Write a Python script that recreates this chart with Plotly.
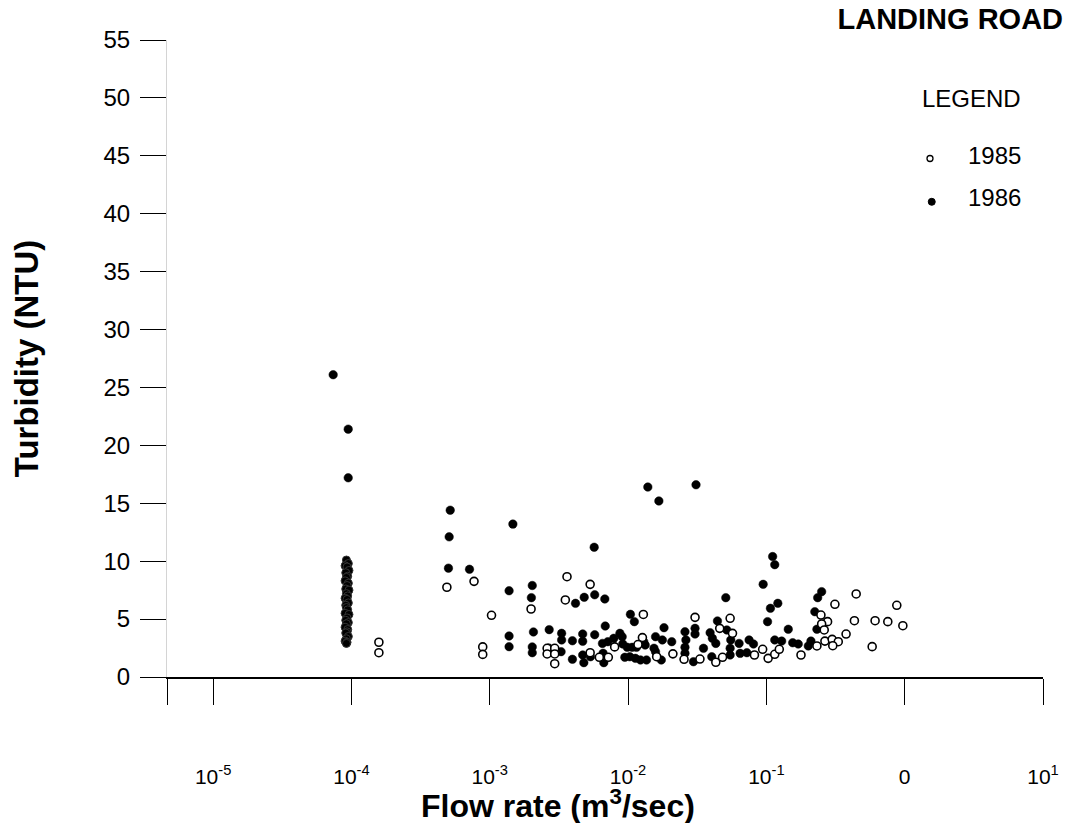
import plotly.graph_objects as go

# turbidity vs flow rate, Landing Road
# 1985 (open circles)
flow_1985 = [1.58e-4, 1.58e-4, 4.9e-4, 7.7e-4, 1.03e-3, 8.9e-4, 8.9e-4, 1.99e-3,
             2.6e-3, 2.6e-3, 2.95e-3, 2.95e-3, 2.95e-3, 3.62e-3, 3.52e-3, 5.32e-3,
             5.32e-3, 6.2e-3, 7.2e-3, 8.0e-3, 1.29e-2, 1.27e-2, 1.18e-2, 1.61e-2,
             2.11e-2, 3.05e-2, 2.54e-2, 3.31e-2, 5.47e-2, 5.69e-2, 4.31e-2, 4.82e-2,
             4.6e-2, 8.2e-2, 9.4e-2, 1.03e-1, 1.15e-1, 1.24e-1, 1.78e-1, 2.32e-1,
             2.48e-1, 2.77e-1, 2.51e-1, 2.62e-1, 3.13e-1, 4.46e-1, 4.33e-1, 3.77e-1,
             2.65e-1, 2.99e-1, 3.31e-1, 3.02e-1, 8.77e-1, 6.11e-1, 7.55e-1, 9.7e-1,
             5.82e-1]
turb_1985 = [3.0, 2.1, 7.75, 8.26, 5.33, 2.6, 1.95, 5.87,
             2.48, 1.99, 2.48, 1.99, 1.15, 8.66, 6.65, 8.0,
             2.1, 1.7, 1.7, 2.6, 5.4, 3.4, 2.8, 1.75,
             2.0, 5.15, 1.53, 1.55, 5.07, 3.77, 1.27, 1.7,
             4.2, 1.9, 2.39, 1.61, 1.96, 2.39, 1.9, 2.68,
             5.35, 4.78, 4.58, 4.06, 6.28, 7.17, 4.86, 3.71,
             3.1, 3.25, 3.05, 2.7, 6.19, 4.86, 4.78, 4.43,
             2.62]

# 1986 (filled circles)
flow_1986 = [7.38e-5, 9.48e-5, 9.48e-5,
             5.18e-4, 5.09e-4, 5.03e-4, 7.14e-4,
             1.47e-3, 1.38e-3, 1.38e-3, 1.38e-3,
             2.03e-3, 2.0e-3, 2.07e-3, 2.03e-3, 2.03e-3,
             2.69e-3, 2.67e-3, 3.31e-3, 3.31e-3, 3.28e-3, 3.96e-3, 3.96e-3,
             4.17e-3, 4.82e-3, 5.74e-3, 6.79e-3, 5.69e-3,
             4.7e-3, 4.7e-3, 5.74e-3, 6.84e-3,
             4.7e-3, 4.79e-3, 5.35e-3, 6.6e-3, 6.68e-3,
             6.53e-3, 7.14e-3, 7.89e-3, 8.73e-3, 9.07e-3,
             9.16e-3, 9.87e-3, 1.07e-2, 1.15e-2,
             1.04e-2, 1.11e-2, 1.30e-2, 1.33e-2,
             9.48e-3, 1.03e-2, 1.13e-2, 1.23e-2, 1.36e-2,
             1.39e-2, 1.67e-2, 3.1e-2,
             1.82e-2, 1.58e-2, 1.77e-2, 2.07e-2, 1.54e-2, 1.58e-2, 1.74e-2,
             2.58e-2, 2.62e-2, 2.58e-2, 2.58e-2,
             3.05e-2, 3.05e-2, 2.97e-2,
             3.51e-2, 3.92e-2, 4.07e-2, 4.31e-2, 4.43e-2, 4.03e-2,
             5.09e-2, 5.18e-2, 5.53e-2, 5.47e-2, 5.47e-2,
             6.35e-2, 6.46e-2, 7.23e-2, 7.5e-2, 8.07e-2,
             9.48e-2, 1.11e-1, 1.15e-1, 1.21e-1, 1.07e-1, 1.02e-1, 1.44e-1,
             1.15e-1, 1.29e-1, 1.55e-1, 1.70e-1, 2.01e-1, 2.1e-1,
             2.35e-1, 2.51e-1, 2.24e-1, 2.32e-1]
turb_1986 = [26.1, 21.4, 17.2,
             14.4, 12.1, 9.4, 9.3,
             13.2, 7.45, 3.54, 2.62,
             7.9, 6.85, 3.89, 2.6, 2.1,
             4.09, 2.5, 3.77, 3.2, 2.19, 3.13, 1.53,
             6.36, 6.88, 7.1, 6.74, 11.2,
             3.71, 3.08, 3.65, 4.4,
             1.9, 1.24, 1.75, 2.05, 1.24,
             2.9, 3.05, 3.34, 3.77, 3.48,
             2.85, 2.56, 2.56, 2.56,
             5.41, 4.78, 3.05, 2.76,
             1.7, 1.75, 1.61, 1.47, 1.47,
             16.4, 15.2, 16.6,
             4.26, 3.48, 3.2, 3.05, 2.48, 2.19, 1.47,
             3.91, 3.2, 2.56, 2.04,
             4.2, 3.71, 1.32,
             2.48, 3.83, 3.34, 2.9, 4.84, 1.75,
             6.85, 4.06, 3.2, 2.48, 1.9,
             2.9, 2.04, 2.1, 3.2, 2.85,
             8.0, 10.4, 9.7, 6.36, 5.93, 4.78, 4.12,
             3.2, 3.1, 2.96, 2.85, 2.68, 3.1,
             6.85, 7.37, 5.64, 4.12]

# the dense stack of 1986 readings just under 1e-4
col_flow = [9.2e-5, 9.5e-5, 9.0e-5, 9.3e-5, 9.6e-5, 9.1e-5, 9.4e-5, 9.2e-5, 9.0e-5,
            9.5e-5, 9.3e-5, 9.1e-5, 9.6e-5, 9.2e-5, 9.4e-5, 9.0e-5, 9.3e-5, 9.5e-5,
            9.1e-5, 9.2e-5, 9.4e-5, 9.0e-5, 9.6e-5, 9.3e-5, 9.1e-5, 9.5e-5, 9.2e-5,
            9.0e-5, 9.4e-5, 9.3e-5, 9.1e-5, 9.5e-5, 9.2e-5, 9.0e-5, 9.3e-5, 9.2e-5]
col_turb = [10.1, 9.8, 9.6, 9.5, 9.2, 9.0, 8.7, 8.6, 8.3, 8.1, 7.9, 7.6,
            7.5, 7.2, 7.0, 6.8, 6.7, 6.4, 6.2, 6.0, 5.8, 5.5, 5.4, 5.1,
            4.9, 4.7, 4.6, 4.3, 4.1, 3.9, 3.8, 3.5, 3.3, 3.1, 3.0, 2.9]

x_tickvals = [4.6416e-6, 1e-5, 1e-4, 1e-3, 1e-2, 1e-1, 1, 10]
x_ticktext = ['', '10<sup>-5</sup>', '10<sup>-4</sup>', '10<sup>-3</sup>', '10<sup>-2</sup>',
              '10<sup>-1</sup>', '0', '10<sup>1</sup>']
y_tickvals = [0, 5, 10, 15, 20, 25, 30, 35, 40, 45, 50, 55]

FONT = 'Liberation Sans, Arial, Helvetica, sans-serif'

fig = go.Figure()
fig.add_trace(go.Scatter(x=col_flow, y=col_turb, mode='markers', name='1986',
                         marker=dict(size=8, color='black', line=dict(color='#333', width=1))))
fig.add_trace(go.Scatter(x=flow_1986, y=turb_1986, mode='markers', name='1986',
                         marker=dict(size=8.5, color='black', line=dict(color='black', width=0.5))))
fig.add_trace(go.Scatter(x=flow_1985, y=turb_1985, mode='markers', name='1985',
                         marker=dict(size=8, color='white', line=dict(color='black', width=1.6))))

fig.update_xaxes(type='log', range=[-5.3333, 1], tickvals=x_tickvals, ticktext=x_ticktext,
                 ticks='outside', ticklen=26, tickwidth=1, tickcolor='black',
                 ticklabelstandoff=54, showline=True, linecolor='black', linewidth=1.5,
                 showgrid=False, zeroline=False, automargin=False,
                 tickfont=dict(family=FONT, size=21, color='black'))
fig.update_yaxes(range=[0, 55], tickvals=y_tickvals, ticks='outside', ticklen=26, tickwidth=1,
                 tickcolor='black', ticklabelstandoff=5, showline=True, linecolor='#d4d4d4',
                 linewidth=1, showgrid=False, zeroline=False, automargin=False,
                 tickfont=dict(family=FONT, size=24, color='black'),
                 title=dict(text='<b>Turbidity (NTU)</b>', standoff=55,
                            font=dict(family=FONT, size=33, color='black')))

# x title sits left of the plot centre in the original, so it is placed by hand
fig.add_annotation(text='<b>Flow rate (m<sup>3</sup>/sec)</b>', xref='paper', yref='paper',
                   x=0.446, y=-0.199, xanchor='center', yanchor='middle', showarrow=False,
                   font=dict(family=FONT, size=32, color='black'))

# hand-made legend like the original
fig.add_annotation(text='LEGEND', xref='paper', yref='paper', x=0.977, y=0.9074,
                   xanchor='right', yanchor='middle', showarrow=False,
                   font=dict(family=FONT, size=24, color='black'))
fig.add_annotation(text='1985', xref='paper', yref='paper', x=0.977, y=0.8179,
                   xanchor='right', yanchor='middle', showarrow=False,
                   font=dict(family=FONT, size=24, color='black'))
fig.add_annotation(text='1986', xref='paper', yref='paper', x=0.977, y=0.752,
                   xanchor='right', yanchor='middle', showarrow=False,
                   font=dict(family=FONT, size=24, color='black'))
fig.add_shape(type='circle', xref='paper', yref='paper', xsizemode='pixel', ysizemode='pixel',
              xanchor=0.871, yanchor=0.814, x0=-3, x1=3, y0=-3, y1=3,
              line=dict(color='black', width=1.3), fillcolor='white')
fig.add_shape(type='circle', xref='paper', yref='paper', xsizemode='pixel', ysizemode='pixel',
              xanchor=0.873, yanchor=0.746, x0=-3.5, x1=3.5, y0=-3.5, y1=3.5,
              line=dict(color='black', width=1), fillcolor='black')

# page body has an 8px margin, so the figure starts 8px in from the window corner
fig.update_layout(
    width=1067, height=815,
    margin=dict(l=159, r=32, t=32, b=146),
    paper_bgcolor='white', plot_bgcolor='white',
    showlegend=False,
    font=dict(family=FONT, color='black'),
    title=dict(text='<b>LANDING ROAD</b>', xref='container', yref='container',
               x=0.9888, xanchor='right', y=0.9865, yanchor='middle',
               font=dict(family=FONT, size=29, color='black')),
)

fig.write_html("out.html")
